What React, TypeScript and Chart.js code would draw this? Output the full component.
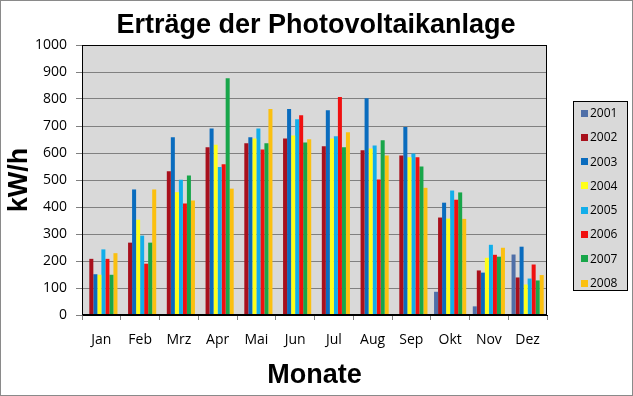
import React, { useEffect, useRef } from "react";
import { Chart, registerables } from "chart.js";

Chart.register(...registerables);

const months = ["Jan", "Feb", "Mrz", "Apr", "Mai", "Jun", "Jul", "Aug", "Sep", "Okt", "Nov", "Dez"];
const years = ["2001", "2002", "2003", "2004", "2005", "2006", "2007", "2008"];
const colors = ["#4F6FA8", "#A8101C", "#0A6CBE", "#FFFF1A", "#12AEEA", "#F01010", "#18A64A", "#FBC010"];

const y2001 = [null, null, null, null, null, null, null, null, null, 86, 32, 224];
const y2002 = [208, 268, 532, 621, 636, 654, 625, 610, 591, 361, 165, 139];
const y2003 = [151, 465, 658, 691, 658, 763, 758, 803, 696, 416, 157, 253];
const y2004 = [149, 353, 455, 631, 654, 665, 654, 617, 584, 357, 212, 113];
const y2005 = [243, 294, 501, 548, 691, 725, 662, 628, 598, 461, 260, 135];
const y2006 = [208, 190, 413, 558, 613, 740, 807, 502, 584, 427, 223, 187];
const y2007 = [149, 268, 517, 877, 636, 639, 621, 647, 550, 454, 216, 128];
const y2008 = [229, 465, 424, 468, 763, 651, 677, 591, 471, 356, 249, 148];
const series = [y2001, y2002, y2003, y2004, y2005, y2006, y2007, y2008];

const yTicksMax = 1000;
const yTickStep = 100;

const decorPlugin = {
  id: "decor",
  beforeDraw(chart: any) {
    const { ctx, chartArea, width, height } = chart;
    ctx.save();
    ctx.fillStyle = "#ffffff";
    ctx.fillRect(0, 0, width, height);
    ctx.strokeStyle = "#8a8a8a";
    ctx.lineWidth = 1;
    ctx.strokeRect(0.5, 0.5, width - 1, height - 1);
    ctx.fillStyle = "#D9D9D9";
    ctx.fillRect(chartArea.left, chartArea.top, chartArea.right - chartArea.left, chartArea.bottom - chartArea.top);
    ctx.restore();
  },
  afterDraw(chart: any) {
    const { ctx, chartArea } = chart;
    ctx.save();
    ctx.strokeStyle = "#000000";
    ctx.lineWidth = 1;
    ctx.strokeRect(
      Math.round(chartArea.left) + 0.5,
      Math.round(chartArea.top) + 0.5,
      Math.round(chartArea.right - chartArea.left) - 1,
      Math.round(chartArea.bottom - chartArea.top) - 1
    );
    // title
    ctx.fillStyle = "#000000";
    ctx.font = 'bold 27px "Liberation Sans", Arial, sans-serif';
    ctx.textAlign = "center";
    ctx.textBaseline = "middle";
    ctx.fillText("Erträge der Photovoltaikanlage", 316, 26);
    // legend
    const lx = 573, ly = 101, lw = 55, lh = 190;
    ctx.fillStyle = "#D9D9D9";
    ctx.fillRect(lx, ly, lw, lh);
    ctx.strokeStyle = "#000000";
    ctx.strokeRect(lx + 0.5, ly + 0.5, lw - 1, lh - 1);
    ctx.font = '12px "Open Sans", sans-serif';
    ctx.textAlign = "left";
    chart.data.datasets.forEach((ds: any, i: number) => {
      const y = 113 + i * 24.3;
      ctx.fillStyle = ds.backgroundColor;
      ctx.fillRect(581, Math.round(y - 3.5), 7, 7);
      ctx.fillStyle = "#000000";
      ctx.fillText(ds.label, 590, y + 0.5);
    });
    ctx.restore();
  },
};

export default function App() {
  const ref = useRef<HTMLCanvasElement>(null);
  useEffect(() => {
    document.body.style.margin = "0";
    const chart = new Chart(ref.current as HTMLCanvasElement, {
      type: "bar",
      data: {
        labels: months,
        datasets: years.map((y, i) => ({
          label: y,
          data: series[i],
          backgroundColor: colors[i],
          borderWidth: 0,
          barPercentage: 1,
          categoryPercentage: 0.83,
        })),
      },
      options: {
        responsive: false,
        animation: false,
        devicePixelRatio: 1,
        layout: { padding: { left: 0, top: 45, right: 86, bottom: 0 } },
        plugins: {
          legend: { display: false },
          title: { display: false },
          tooltip: { enabled: false },
        },
        scales: {
          x: {
            offset: true,
            grid: {
              offset: true,
              drawOnChartArea: false,
              drawTicks: true,
              tickLength: 5,
              color: "#808080",
            },
            border: { color: "#000000" },
            ticks: {
              color: "#000000",
              padding: 12,
              font: { family: '"Open Sans", sans-serif', size: 14 },
              maxRotation: 0,
            },
            title: {
              display: true,
              text: "Monate",
              color: "#000000",
              font: { family: '"Liberation Sans", Arial, sans-serif', size: 27, weight: "bold" },
              padding: { top: 0, bottom: 4 },
            },
            afterFit(scale: any) {
              scale.height = 81;
            },
          },
          y: {
            min: 0,
            max: yTicksMax,
            grid: { color: "#808080", tickLength: 6, drawTicks: true },
            border: { color: "#555555" },
            ticks: {
              stepSize: yTickStep,
              color: "#000000",
              padding: 9,
              font: { family: '"Open Sans", sans-serif', size: 14 },
              callback: (v: any) => String(v),
            },
            title: {
              display: true,
              text: "kW/h",
              color: "#000000",
              font: { family: '"Liberation Sans", Arial, sans-serif', size: 27, weight: "bold" },
              padding: { top: 3, bottom: 0 },
            },
            afterFit(scale: any) {
              scale.width = 82;
            },
          },
        },
      },
      plugins: [decorPlugin],
    });
    return () => chart.destroy();
  }, []);
  return (
    <div style={{ width: 633, height: 396 }}>
      <canvas ref={ref} width={633} height={396} />
    </div>
  );
}
